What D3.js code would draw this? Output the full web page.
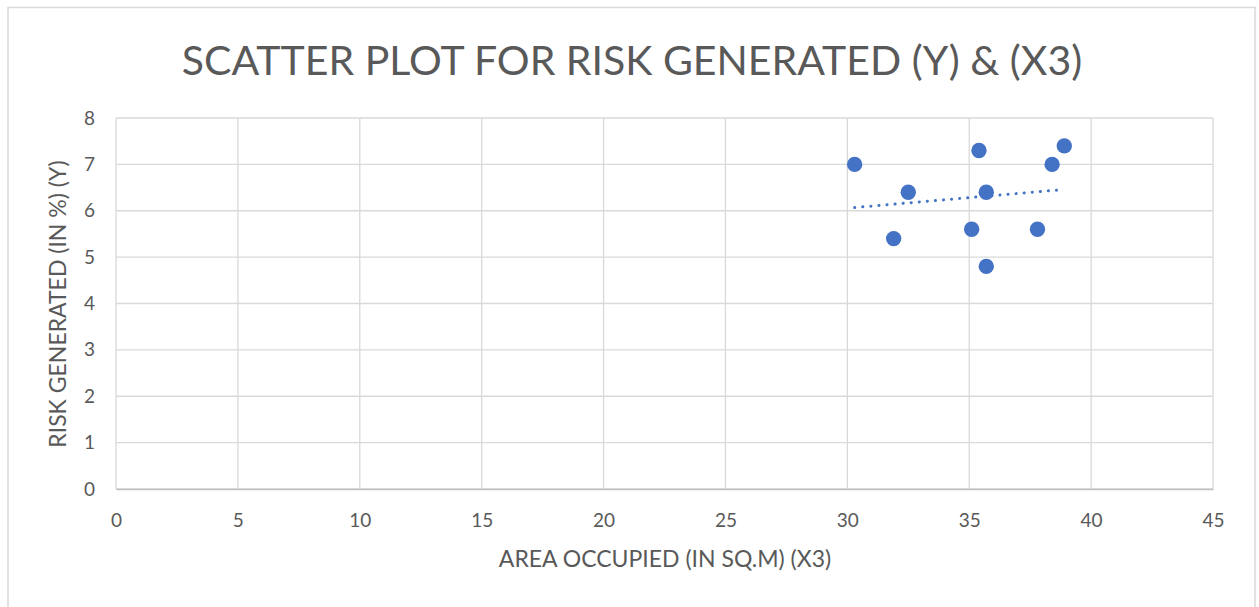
<!DOCTYPE html>
<html><head><meta charset="utf-8">
<script src="https://cdn.jsdelivr.net/npm/d3@7"></script>
<style>body{margin:0;background:#fff}svg{display:block}</style>
</head><body>
<script>
const xValues = [30.3, 31.9, 32.5, 35.4, 35.1, 35.7, 35.7, 37.8, 38.4, 38.9];
const yValues = [7.0, 5.4, 6.4, 7.3, 5.6, 6.4, 4.8, 5.6, 7.0, 7.4];
const xTicks = [0, 5, 10, 15, 20, 25, 30, 35, 40, 45];
const yTicks = [0, 1, 2, 3, 4, 5, 6, 7, 8];
const title = "SCATTER PLOT FOR RISK GENERATED (Y) & (X3)";
const xTitle = "AREA OCCUPIED (IN SQ.M) (X3)";
const yTitle = "RISK GENERATED (IN %) (Y)";

const W = 1259, H = 607;
const font = "Lato, 'Open Sans', sans-serif";
const svg = d3.select("body").append("svg").attr("width", W).attr("height", H);
svg.append("rect").attr("x", 8).attr("y", 7.5).attr("width", 1247).attr("height", 640)
  .attr("fill", "#fff").attr("stroke", "#d9d9d9").attr("stroke-width", 1.5);

const m = {left: 116, right: 1213, top: 118, bottom: 489};
const x = d3.scaleLinear().domain([0, 45]).range([m.left, m.right]);
const y = d3.scaleLinear().domain([0, 8]).range([m.bottom, m.top]);

// gridlines
const g = svg.append("g");
g.selectAll(".vg").data(xTicks).join("line")
  .attr("x1", d => x(d)).attr("x2", d => x(d)).attr("y1", m.top).attr("y2", m.bottom)
  .attr("stroke", "#d9d9d9").attr("stroke-width", 1.3);
g.selectAll(".hg").data(yTicks).join("line")
  .attr("x1", m.left).attr("x2", m.right).attr("y1", d => y(d)).attr("y2", d => y(d))
  .attr("stroke", "#d9d9d9").attr("stroke-width", 1.3);

// axes with d3
const xAxis = svg.append("g").attr("transform", `translate(0,${m.bottom})`)
  .call(d3.axisBottom(x).tickValues(xTicks).tickSize(0).tickPadding(25));
const yAxis = svg.append("g").attr("transform", `translate(${m.left},0)`)
  .call(d3.axisLeft(y).tickValues(yTicks).tickSize(0).tickPadding(21));
[xAxis, yAxis].forEach(a => {
  a.select(".domain").attr("stroke", "#bfbfbf").attr("stroke-width", 1.3);
  a.selectAll("text").attr("fill", "#595959").style("font-family", font).style("font-size", "19px");
});
yAxis.select(".domain").remove();

// trendline (linear least squares)
const n = xValues.length;
const mx = d3.mean(xValues), my = d3.mean(yValues);
let sxy = 0, sxx = 0;
for (let i = 0; i < n; i++) { sxy += (xValues[i]-mx)*(yValues[i]-my); sxx += (xValues[i]-mx)**2; }
const slope = sxy / sxx, icpt = my - slope * mx;
const x0 = d3.min(xValues), x1 = d3.max(xValues);
svg.append("line")
  .attr("x1", x(x0)).attr("y1", y(icpt + slope*x0))
  .attr("x2", x(x1)).attr("y2", y(icpt + slope*x1))
  .attr("stroke", "#4472c4").attr("stroke-width", 3).attr("stroke-linecap", "round")
  .attr("stroke-dasharray", "0.1 8");

// points
svg.append("g").selectAll("circle").data(xValues.map((v, i) => [v, yValues[i]])).join("circle")
  .attr("cx", d => x(d[0])).attr("cy", d => y(d[1])).attr("r", 7.7)
  .attr("fill", "#4472c4");

// titles
svg.append("text").attr("x", 632).attr("y", 75).attr("text-anchor", "middle")
  .attr("fill", "#595959").style("font-family", font).style("font-size", "41px").text(title);
svg.append("text").attr("x", 665).attr("y", 567).attr("text-anchor", "middle")
  .attr("fill", "#595959").style("font-family", font).style("font-size", "23px").text(xTitle);
svg.append("text").attr("transform", "translate(66,304) rotate(-90)").attr("text-anchor", "middle")
  .attr("fill", "#595959").style("font-family", font).style("font-size", "23px").text(yTitle);
</script>
</body></html>
